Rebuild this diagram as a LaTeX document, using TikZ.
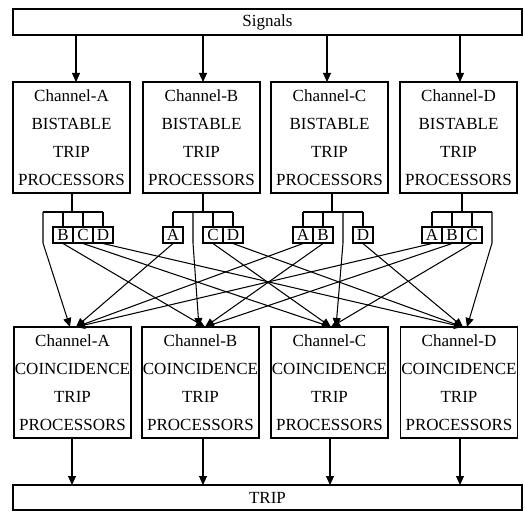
\documentclass[tikz,border=0pt]{standalone}
\usepackage{fontspec}
\setmainfont{Liberation Serif}
\usetikzlibrary{arrows.meta}
\begin{document}
\begin{tikzpicture}[x=1pt,y=-1pt,line width=1.05pt,
  arr/.style={-{Triangle[length=9pt,width=8pt]}},
  proc/.style={draw,minimum width=117pt,minimum height=111pt,inner sep=0pt,
               align=center,font=\fontsize{17}{28}\selectfont},
  wide/.style={draw,minimum width=509pt,minimum height=26pt,inner sep=0pt,
               font=\fontsize{17}{20}\selectfont},
  tag/.style={draw,minimum width=20pt,minimum height=16pt,inner sep=0pt,
              font=\fontsize{17}{16}\selectfont}]
\useasboundingbox (0,0) rectangle (525,513);

% signal bus and trip output
\node[wide] (sig)  at (267.5,22) {Signals};
\node[wide,minimum height=25pt] (trip) at (267.5,497.5) {TRIP};

% bistable trip processors
\node[proc] (tA) at (71.5,137.5)  {Channel-A\\BISTABLE\\TRIP\\PROCESSORS};
\node[proc] (tB) at (201.5,137.5) {Channel-B\\BISTABLE\\TRIP\\PROCESSORS};
\node[proc] (tC) at (329.5,137.5) {Channel-C\\BISTABLE\\TRIP\\PROCESSORS};
\node[proc] (tD) at (458.5,137.5) {Channel-D\\BISTABLE\\TRIP\\PROCESSORS};

% coincidence trip processors
\node[proc] (bA) at (72.5,382.5)  {Channel-A\\COINCIDENCE\\TRIP\\PROCESSORS};
\node[proc] (bB) at (200.5,382.5) {Channel-B\\COINCIDENCE\\TRIP\\PROCESSORS};
\node[proc] (bC) at (329.5,382.5) {Channel-C\\COINCIDENCE\\TRIP\\PROCESSORS};
\node[proc] (bD) at (459,382.5)   {Channel-D\\COINCIDENCE\\TRIP\\PROCESSORS};

% signal feeds
\foreach \n/\x in {A/76,B/203,C/327,D/460}{
  \coordinate (s\n) at (\x,35);
  \coordinate (i\n) at (\x,82);
  \draw[arr] (s\n) -- (i\n);
}

% output feeds to trip
\foreach \n/\x in {A/72,B/203,C/330,D/460}{
  \coordinate (o\n) at (\x,438);
  \coordinate (p\n) at (\x,485);
  \draw[arr] (o\n) -- (p\n);
}

% distribution tags
\node[tag] (aB) at (63,235)  {B};
\node[tag] (aC) at (83,235)  {C};
\node[tag] (aD) at (103,235) {D};
\node[tag] (bA1) at (173,235) {A};
\node[tag] (bC1) at (213,235) {C};
\node[tag] (bD1) at (233,235) {D};
\node[tag] (cA) at (303,235) {A};
\node[tag] (cB) at (323,235) {B};
\node[tag] (cD) at (363,235) {D};
\node[tag] (dA) at (432,235) {A};
\node[tag] (dB) at (452,235) {B};
\node[tag] (dC) at (472,235) {C};

% branch buses under each bistable processor
\foreach \n/\s/\l/\r in {A/72/43/103,B/203/173/233,C/332/303/363,D/462/432/492}{
  \coordinate (j\n) at (\s,212);
  \coordinate (l\n) at (\l,212);
  \coordinate (r\n) at (\r,212);
  \draw (t\n.south -| j\n) -- (j\n);
  \draw (l\n) -- (r\n);
}
\foreach \t in {aB,aC,aD,bA1,bC1,bD1,cA,cB,cD,dA,dB,dC}{
  \draw (\t.north |- jA) -- (\t.north);
}

% entry points on the coincidence processors
\coordinate (eA) at (76,327);  \coordinate (fA) at (70,327);
\coordinate (eB) at (205,327); \coordinate (fB) at (199,327);
\coordinate (eC) at (331,327); \coordinate (fC) at (336,327);
\coordinate (eD) at (463,327); \coordinate (fD) at (467,327);

% own-channel direct lines
\coordinate (kA) at (43,243);  \draw[arr] (lA) -- (kA) -- (fA);
\coordinate (kB) at (193,243); \coordinate (mB) at (193,212); \draw[arr] (mB) -- (kB) -- (fB);
\coordinate (kC) at (343,243); \coordinate (mC) at (343,212); \draw[arr] (mC) -- (kC) -- (fC);
\coordinate (kD) at (492,243); \draw[arr] (rD) -- (kD) -- (fD);

% cross-channel lines
\draw[arr] (aB.south) -- (eB);
\draw[arr] (aC.south) -- (eC);
\draw[arr] (aD.south) -- (eD);
\draw[arr] (bA1.south) -- (eA);
\draw[arr] (bC1.south) -- (eC);
\draw[arr] (bD1.south) -- (eD);
\draw[arr] (cA.south) -- (eA);
\draw[arr] (cB.south) -- (eB);
\draw[arr] (cD.south) -- (eD);
\draw[arr] (dA.south) -- (eA);
\draw[arr] (dB.south) -- (eB);
\draw[arr] (dC.south) -- (eC);
\end{tikzpicture}
\end{document}
